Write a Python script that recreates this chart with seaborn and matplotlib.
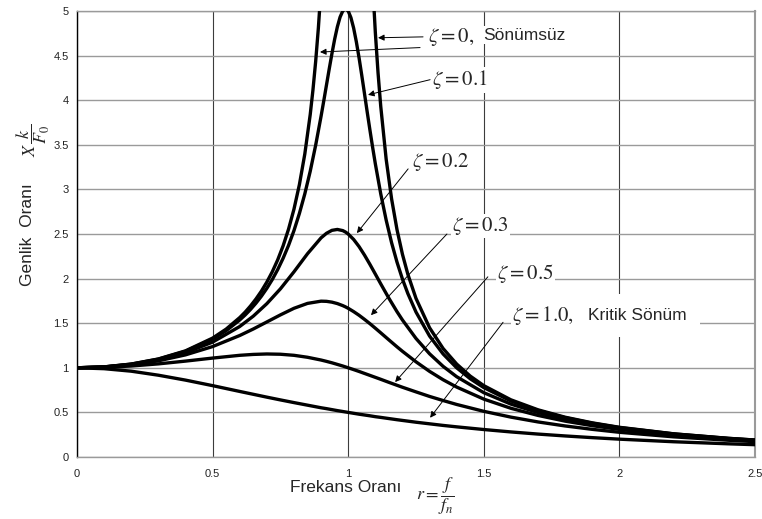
import matplotlib
matplotlib.use("Agg")
import matplotlib.pyplot as plt
import seaborn as sns
import pandas as pd

# Frequency ratio samples shared by the more heavily damped curves
r_vals = [0, 0.1, 0.2, 0.3, 0.4, 0.5, 0.6, 0.65, 0.7, 0.75, 0.8, 0.85, 0.9, 0.92,
          0.94, 0.96, 0.98, 0.99, 1.0, 1.02, 1.04, 1.06, 1.08, 1.1, 1.12, 1.15,
          1.18, 1.2, 1.25, 1.3, 1.35, 1.4, 1.5, 1.6, 1.7, 1.8, 1.9, 2.0, 2.2,
          2.4, 2.5]

# Amplitude ratio X k / F0 for each damping ratio
amp_z02 = [1.000, 1.009, 1.038, 1.089, 1.169, 1.288, 1.463, 1.579, 1.719, 1.885,
           2.076, 2.279, 2.457, 2.508, 2.541, 2.551, 2.538, 2.522, 2.500, 2.439,
           2.359, 2.264, 2.160, 2.051, 1.941, 1.780, 1.629, 1.536, 1.329, 1.157,
           1.016, 0.900, 0.721, 0.593, 0.498, 0.425, 0.368, 0.322, 0.254, 0.206,
           0.187]
amp_z03 = [1.000, 1.008, 1.034, 1.078, 1.145, 1.238, 1.362, 1.435, 1.514, 1.593,
           1.667, 1.722, 1.747, 1.745, 1.736, 1.720, 1.697, 1.683, 1.667, 1.630,
           1.589, 1.543, 1.495, 1.444, 1.392, 1.313, 1.235, 1.185, 1.067, 0.960,
           0.866, 0.784, 0.649, 0.546, 0.466, 0.402, 0.351, 0.309, 0.246, 0.201,
           0.183]
amp_z05 = [1.000, 1.005, 1.020, 1.044, 1.075, 1.109, 1.140, 1.150, 1.155, 1.152,
           1.140, 1.118, 1.087, 1.072, 1.056, 1.038, 1.020, 1.010, 1.000, 0.980,
           0.959, 0.937, 0.915, 0.893, 0.871, 0.837, 0.804, 0.782, 0.730, 0.679,
           0.633, 0.589, 0.512, 0.447, 0.393, 0.348, 0.310, 0.277, 0.226, 0.188,
           0.172]
amp_z10 = [1.000, 0.990, 0.962, 0.917, 0.862, 0.800, 0.735, 0.703, 0.671, 0.640,
           0.610, 0.581, 0.552, 0.542, 0.531, 0.520, 0.510, 0.505, 0.500, 0.490,
           0.480, 0.471, 0.462, 0.452, 0.444, 0.431, 0.418, 0.410, 0.390, 0.372,
           0.354, 0.338, 0.308, 0.281, 0.257, 0.236, 0.217, 0.200, 0.171, 0.148,
           0.138]

# Lightly damped curve (zeta = 0.1), sampled finely around resonance
r_z01 = [0, 0.1, 0.2, 0.3, 0.4, 0.5, 0.55, 0.6, 0.62, 0.64, 0.66, 0.68, 0.7, 0.72,
         0.74, 0.76, 0.78, 0.8, 0.82, 0.84, 0.86, 0.88, 0.9, 0.91, 0.92, 0.93,
         0.94, 0.95, 0.96, 0.97, 0.98, 0.99, 1.0, 1.01, 1.02, 1.03, 1.04, 1.05,
         1.06, 1.07, 1.08, 1.09, 1.1, 1.12, 1.14, 1.16, 1.18, 1.2, 1.22, 1.25,
         1.3, 1.35, 1.4, 1.45, 1.5, 1.6, 1.7, 1.8, 1.9, 2.0, 2.2, 2.4, 2.5]
amp_z01 = [1.000, 1.010, 1.041, 1.097, 1.185, 1.322, 1.416, 1.536, 1.592, 1.655,
           1.725, 1.803, 1.891, 1.989, 2.101, 2.228, 2.372, 2.538, 2.730, 2.950,
           3.204, 3.495, 3.821, 3.994, 4.172, 4.350, 4.522, 4.683, 4.822, 4.931,
           5.001, 5.025, 5.000, 4.926, 4.809, 4.655, 4.476, 4.279, 4.075, 3.869,
           3.668, 3.473, 3.288, 2.950, 2.656, 2.402, 2.184, 1.995, 1.832, 1.625,
           1.356, 1.155, 1.000, 0.877, 0.778, 0.628, 0.521, 0.441, 0.379, 0.330,
           0.259, 0.209, 0.190]

# Undamped response: two branches on either side of resonance
r_undamped_left = [0, 0.1, 0.2, 0.3, 0.4, 0.5, 0.55, 0.6, 0.62, 0.64, 0.66, 0.68,
                   0.7, 0.72, 0.74, 0.76, 0.78, 0.8, 0.82, 0.84, 0.86, 0.87, 0.88,
                   0.89, 0.9, 0.91]
amp_undamped_left = [1.000, 1.010, 1.042, 1.099, 1.190, 1.333, 1.434, 1.563,
                     1.624, 1.694, 1.772, 1.860, 1.961, 2.076, 2.210, 2.367,
                     2.554, 2.778, 3.053, 3.397, 3.840, 4.114, 4.433, 4.810,
                     5.263, 5.817]
r_undamped_right = [1.09, 1.1, 1.11, 1.12, 1.14, 1.16, 1.18, 1.2, 1.22, 1.25, 1.3,
                    1.35, 1.4, 1.45, 1.5, 1.6, 1.7, 1.8, 1.9, 2.0, 2.2, 2.4, 2.5]
amp_undamped_right = [5.316, 4.762, 4.308, 3.931, 3.338, 2.894, 2.548, 2.273,
                      2.048, 1.778, 1.449, 1.216, 1.042, 0.907, 0.800, 0.641,
                      0.529, 0.446, 0.383, 0.333, 0.260, 0.210, 0.190]

x_ticks = [0, 0.5, 1.0, 1.5, 2.0, 2.5]
x_tick_labels = ["0", "0.5", "1", "1.5", "2", "2.5"]
y_ticks = [0, 0.5, 1.0, 1.5, 2.0, 2.5, 3.0, 3.5, 4.0, 4.5, 5.0]
y_tick_labels = ["0", "0.5", "1", "1.5", "2", "2.5", "3", "3.5", "4", "4.5", "5"]

sns.set_style("white")
plt.rcParams["font.family"] = ["Liberation Sans", "DejaVu Sans"]
plt.rcParams["mathtext.fontset"] = "stix"

fig = plt.figure(figsize=(7.62, 5.19), dpi=100)
fig.patch.set_facecolor("white")
ax = fig.add_axes([77 / 762, 1 - 457 / 519, (755 - 77) / 762, (457 - 11) / 519])

curves = [
    (r_undamped_left, amp_undamped_left),
    (r_undamped_right, amp_undamped_right),
    (r_z01, amp_z01),
    (r_vals, amp_z02),
    (r_vals, amp_z03),
    (r_vals, amp_z05),
    (r_vals, amp_z10),
]
for xs, ys in curves:
    df = pd.DataFrame({"r": xs, "amp": ys})
    sns.lineplot(data=df, x="r", y="amp", ax=ax, color="black", linewidth=2.4,
                 estimator=None, sort=False, zorder=3)

ax.set_xlim(0, 2.5)
ax.set_ylim(0, 5)
ax.set_xticks(x_ticks, x_tick_labels)
ax.set_yticks(y_ticks, y_tick_labels)
ax.set_xlabel("")
ax.set_ylabel("")

ax.set_axisbelow(True)
ax.yaxis.grid(True, color="#9a9a9a", linewidth=1.0)
ax.xaxis.grid(True, color="#3c3c3c", linewidth=0.8)

ax.tick_params(axis="both", direction="out", length=3, width=0.8,
               color="#444444", labelsize=8, labelcolor="#222222")
ax.tick_params(axis="y", pad=3)
ax.tick_params(axis="x", pad=5.5)

ax.spines["left"].set_color("black")
ax.spines["left"].set_linewidth(1.0)
for side in ("bottom", "top"):
    ax.spines[side].set_color("#9a9a9a")
    ax.spines[side].set_linewidth(1.0)
ax.spines["right"].set_color("#9a9a9a")
ax.spines["right"].set_linewidth(1.5)

box = dict(facecolor="white", edgecolor="none", pad=1.0)
math_size = 15
text_size = 12.5

labels = [
    (1.294, 4.71, r"$\zeta = 0,$"),
    (1.309, 4.23, r"$\zeta = 0.1$"),
    (1.235, 3.31, r"$\zeta = 0.2$"),
    (1.383, 2.59, r"$\zeta = 0.3$"),
    (1.549, 2.06, r"$\zeta = 0.5$"),
    (1.604, 1.59, r"$\zeta = 1.0,$"),
]
for x, y, s in labels:
    ax.text(x, y, s, fontsize=math_size, ha="left", va="center", bbox=box, zorder=4)

ax.text(1.497, 4.73, "Sönümsüz", fontsize=text_size, ha="left", va="center",
        bbox=box, zorder=4)
ax.text(1.884, 1.59, "Kritik Sönüm", fontsize=text_size, ha="left", va="center",
        bbox=dict(facecolor="white", edgecolor="none", pad=10.0), zorder=3.9)

arrows = [
    ((1.276, 4.71), (1.110, 4.70)),
    ((1.265, 4.59), (0.896, 4.54)),
    ((1.302, 4.23), (1.073, 4.06)),
    ((1.221, 3.23), (1.032, 2.51)),
    ((1.364, 2.50), (1.084, 1.59)),
    ((1.515, 2.02), (1.173, 0.84)),
    ((1.571, 1.51), (1.302, 0.44)),
]
for tail, head in arrows:
    ax.annotate("", xy=head, xytext=tail,
                arrowprops=dict(arrowstyle="-|>", color="black", lw=0.7,
                                mutation_scale=9, shrinkA=0, shrinkB=0),
                zorder=5)

# Axis titles
fig.text(28 / 762, 1 - 235 / 519, "Genlik  Oranı", rotation=90, ha="center",
         va="center", fontsize=text_size)
fig.text(33 / 762, 1 - 140 / 519, r"$X\,\dfrac{k}{F_0}$", rotation=90, ha="center",
         va="center", fontsize=13)
fig.text(346 / 762, 1 - 487 / 519, "Frekans Oranı", ha="center", va="center",
         fontsize=text_size)
fig.text(435 / 762, 1 - 496 / 519, r"$r = \dfrac{f}{f_n}$", ha="center", va="center",
         fontsize=13)

fig.savefig("out.png", dpi=100)
